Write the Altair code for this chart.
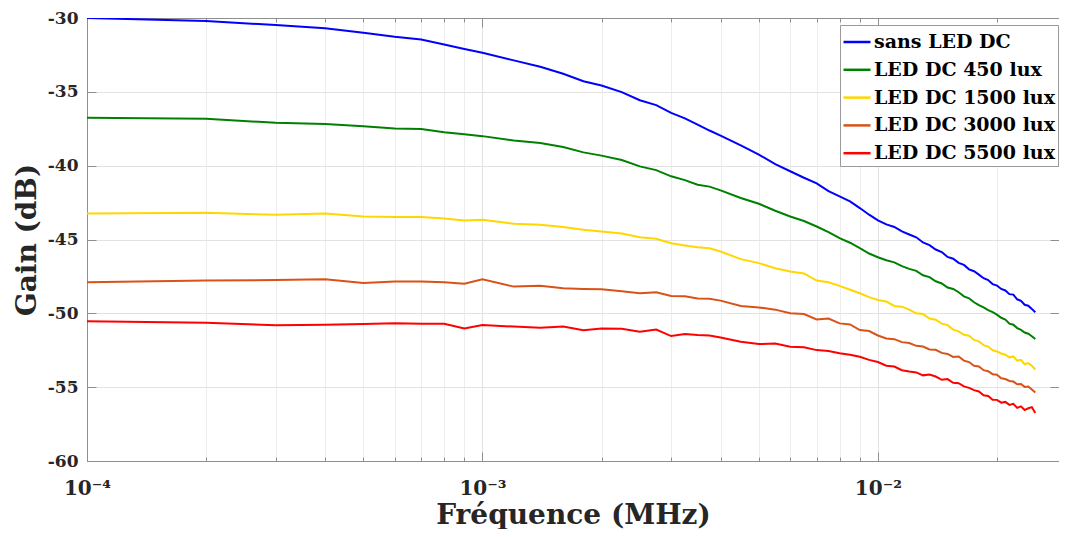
import altair as alt
import pandas as pd

FONT = "DejaVu Serif"

FREQ_MHZ = [
    0.0001, 0.0002, 0.0003, 0.0004, 0.0005, 0.0006, 0.0007, 0.0008, 0.0009, 0.0010,
    0.0012, 0.0014, 0.0016, 0.0018, 0.0020, 0.00225, 0.0025, 0.00275, 0.0030, 0.00325,
    0.0035, 0.00375, 0.0040, 0.0045, 0.0050, 0.0055, 0.0060, 0.0065, 0.0070, 0.0075,
    0.0080, 0.0085, 0.0090, 0.0095,
    0.0100, 0.0105, 0.0110, 0.0115, 0.0120, 0.0125, 0.0130, 0.0135, 0.0140, 0.0145,
    0.0150, 0.0155, 0.0160, 0.0165, 0.0170, 0.0175, 0.0180, 0.0185, 0.0190, 0.0195,
    0.0200, 0.0205, 0.0210, 0.0215, 0.0220, 0.0225, 0.0230, 0.0235, 0.0240, 0.0245,
    0.0250,
]

SANS_LED = [
    -30.00, -30.20, -30.48, -30.70, -31.00, -31.27, -31.45, -31.80, -32.10, -32.35,
    -32.87, -33.30, -33.78, -34.28, -34.57, -35.02, -35.57, -35.90, -36.43, -36.80,
    -37.22, -37.62, -37.96, -38.62, -39.25, -39.90, -40.38, -40.82, -41.20, -41.72,
    -42.08, -42.42, -42.87, -43.32,
    -43.70, -43.98, -44.15, -44.45, -44.66, -44.85, -45.20, -45.38, -45.68, -45.85,
    -46.18, -46.30, -46.58, -46.72, -47.02, -47.15, -47.38, -47.62, -47.75, -48.02,
    -48.12, -48.35, -48.45, -48.70, -48.73, -49.05, -49.15, -49.42, -49.48, -49.70,
    -49.93,
]

LUX_450 = [
    -36.76, -36.83, -37.10, -37.17, -37.33, -37.49, -37.51, -37.74, -37.87, -38.00,
    -38.30, -38.46, -38.73, -39.10, -39.32, -39.62, -40.05, -40.30, -40.72, -40.98,
    -41.29, -41.42, -41.67, -42.19, -42.58, -43.05, -43.44, -43.75, -44.12, -44.50,
    -44.91, -45.22, -45.59, -45.95,
    -46.20, -46.40, -46.55, -46.80, -46.99, -47.12, -47.42, -47.55, -47.83, -47.98,
    -48.25, -48.35, -48.57, -48.85, -48.98, -49.25, -49.45, -49.60, -49.78, -49.92,
    -50.09, -50.30, -50.42, -50.70, -50.77, -51.00, -51.12, -51.30, -51.38, -51.55,
    -51.74,
]

LUX_1500 = [
    -43.24, -43.19, -43.33, -43.24, -43.44, -43.48, -43.48, -43.57, -43.71, -43.67,
    -43.94, -44.00, -44.16, -44.34, -44.46, -44.60, -44.84, -44.95, -45.25, -45.40,
    -45.52, -45.60, -45.81, -46.33, -46.60, -46.95, -47.17, -47.30, -47.78, -47.90,
    -48.14, -48.40, -48.64, -48.90,
    -49.10, -49.20, -49.50, -49.55, -49.75, -50.00, -50.05, -50.35, -50.43, -50.70,
    -50.80, -51.10, -51.22, -51.45, -51.52, -51.80, -51.90, -52.15, -52.25, -52.50,
    -52.58, -52.72, -52.80, -52.98, -52.92, -53.20, -53.15, -53.45, -53.37, -53.55,
    -53.80,
]

LUX_3000 = [
    -47.90, -47.78, -47.74, -47.69, -47.94, -47.85, -47.85, -47.90, -48.00, -47.70,
    -48.19, -48.14, -48.30, -48.35, -48.37, -48.50, -48.64, -48.58, -48.82, -48.85,
    -49.00, -49.02, -49.14, -49.50, -49.60, -49.75, -50.00, -50.05, -50.41, -50.35,
    -50.68, -50.75, -51.13, -51.20,
    -51.50, -51.70, -51.75, -51.95, -52.01, -52.20, -52.25, -52.45, -52.47, -52.68,
    -52.75, -52.95, -52.92, -53.20, -53.30, -53.55, -53.60, -53.85, -53.92, -54.12,
    -54.16, -54.40, -54.45, -54.58, -54.62, -54.80, -54.78, -54.98, -54.95, -55.15,
    -55.36,
]

LUX_5500 = [
    -50.54, -50.63, -50.81, -50.77, -50.72, -50.68, -50.70, -50.70, -51.02, -50.79,
    -50.90, -50.97, -50.90, -51.15, -51.02, -51.05, -51.24, -51.10, -51.54, -51.40,
    -51.47, -51.50, -51.63, -51.92, -52.08, -52.05, -52.26, -52.30, -52.49, -52.55,
    -52.71, -52.80, -52.94, -53.15,
    -53.30, -53.55, -53.60, -53.85, -53.94, -54.00, -54.20, -54.15, -54.28, -54.50,
    -54.45, -54.70, -54.73, -54.95, -55.05, -55.20, -55.29, -55.55, -55.60, -55.85,
    -55.86, -56.05, -56.00, -56.20, -56.13, -56.40, -56.30, -56.55, -56.43, -56.35,
    -56.75,
]

SERIES_NAMES = ["sans LED DC", "LED DC 450 lux", "LED DC 1500 lux", "LED DC 3000 lux", "LED DC 5500 lux"]
SERIES_COLORS = ["#0000FF", "#008000", "#FFD700", "#D95319", "#FF0000"]
SERIES_VALUES = [SANS_LED, LUX_450, LUX_1500, LUX_3000, LUX_5500]

X_DOMAIN = [0.0001, 0.0287]
X_MAJOR = [0.0001, 0.001, 0.01]
X_MAJOR_LABELS = ["10⁻⁴", "10⁻³", "10⁻²"]
X_MINOR = [0.0002, 0.0003, 0.0004, 0.0005, 0.0006, 0.0007, 0.0008, 0.0009,
           0.002, 0.003, 0.004, 0.005, 0.006, 0.007, 0.008, 0.009,
           0.02]
Y_TICKS = [-60, -55, -50, -45, -40, -35, -30]

rows = []
for name, vals in zip(SERIES_NAMES, SERIES_VALUES):
    for f, g in zip(FREQ_MHZ, vals):
        rows.append({"f": f, "gain": g, "series": name})
df = pd.DataFrame(rows)

W, H = 972, 443
AX = "#8f8f8f"
GRID_MAJOR = "#e2e2e2"
GRID_MINOR = "#ededed"
TXT = "#262626"

xscale = alt.Scale(type="log", domain=X_DOMAIN, nice=False)
yscale = alt.Scale(domain=[-60, -30], nice=False, zero=False)

label_expr = ""
for v, lab in zip(X_MAJOR[:-1], X_MAJOR_LABELS[:-1]):
    label_expr += f"datum.value < {v * 5} ? '{lab}' : "
label_expr += f"'{X_MAJOR_LABELS[-1]}'"

major_test = "indexof([" + ",".join(str(v) for v in X_MAJOR) + "], datum.value) >= 0"
all_x = X_MAJOR + X_MINOR

x_main = alt.Axis(orient="bottom", values=X_MAJOR, labelExpr=label_expr, grid=True,
                  gridColor=GRID_MAJOR, gridWidth=1, ticks=False, tickSize=0,
                  domain=True, domainColor=AX, domainWidth=1,
                  labelFont=FONT, labelFontSize=20, labelFontWeight="bold", labelColor=TXT,
                  labelPadding=17, labelFlush=False, labelOverlap=False,
                  title="Fréquence (MHz)", titleFont=FONT, titleFontSize=28,
                  titleFontWeight="bold", titleColor=TXT, titleBaseline="alphabetic",
                  titleY=62)
x_minor_grid = alt.Axis(orient="bottom", values=X_MINOR, grid=True, gridColor=GRID_MINOR,
                        gridWidth=1, labels=False, ticks=False, domain=False, title="")
x_top_ticks = alt.Axis(orient="bottom", offset=-H, values=all_x, grid=False, labels=False,
                       ticks=True, tickColor=AX,
                       tickSize={"condition": {"test": major_test, "value": 9}, "value": 4},
                       domain=True, domainColor=AX, title="")
x_bottom_ticks = alt.Axis(orient="top", offset=-H, values=all_x, grid=False, labels=False,
                          ticks=True, tickColor=AX,
                          tickSize={"condition": {"test": major_test, "value": 9}, "value": 4},
                          domain=False, title="")

y_main = alt.Axis(orient="left", values=Y_TICKS, labelExpr="'' + datum.value", grid=True,
                  gridColor=GRID_MAJOR, ticks=False, tickSize=0, domain=True, domainColor=AX,
                  labelFont=FONT, labelFontSize=17, labelFontWeight="bold", labelColor=TXT,
                  labelPadding=9, title="Gain (dB)", titleFont=FONT, titleFontSize=28,
                  titleFontWeight="bold", titleColor=TXT, titlePadding=6)
y_left_ticks = alt.Axis(orient="right", offset=-W, values=Y_TICKS, grid=False, labels=False,
                        ticks=True, tickColor=AX, tickSize=9, domain=False, title="")
y_right_ticks = alt.Axis(orient="left", offset=-W, values=Y_TICKS, grid=False, labels=False,
                         ticks=True, tickColor=AX, tickSize=9, domain=True, domainColor=AX, title="")

lines = alt.Chart(df).mark_line(strokeWidth=2, clip=True).encode(
    x=alt.X("f:Q", scale=xscale, axis=x_main),
    y=alt.Y("gain:Q", scale=yscale, axis=y_main),
    color=alt.Color("series:N", sort=SERIES_NAMES,
                    scale=alt.Scale(domain=SERIES_NAMES, range=SERIES_COLORS),
                    legend=alt.Legend(title=None, orient="none", legendX=753, legendY=7,
                                      direction="vertical", fillColor="white",
                                      strokeColor="#9a9a9a", padding=2,
                                      symbolType="stroke", symbolSize=729,
                                      symbolStrokeWidth=2.5, labelFont=FONT,
                                      labelFontSize=19, labelFontWeight="bold",
                                      labelColor="#000000", labelOffset=2, rowPadding=2.8,
                                      labelLimit=400)),
    detail="series:N",
)

helper1 = alt.Chart(df).mark_line(opacity=0).encode(
    x=alt.X("f:Q", scale=xscale, axis=x_minor_grid),
    y=alt.Y("gain:Q", scale=yscale, axis=y_left_ticks),
    detail="series:N",
)
helper2 = alt.Chart(df).mark_line(opacity=0).encode(
    x=alt.X("f:Q", scale=xscale, axis=x_top_ticks),
    y=alt.Y("gain:Q", scale=yscale, axis=y_right_ticks),
    detail="series:N",
)
helper3 = alt.Chart(df).mark_line(opacity=0).encode(
    x=alt.X("f:Q", scale=xscale, axis=x_bottom_ticks),
    y=alt.Y("gain:Q", scale=yscale, axis=None),
    detail="series:N",
)

chart = alt.layer(helper1, helper2, helper3, lines).resolve_axis(
    x="independent", y="independent"
).properties(
    width=W, height=H,
    padding={"left": 79, "top": 10, "right": 0, "bottom": 68},
    autosize=alt.AutoSizeParams(type="none"),
).configure_view(stroke=None)

chart.save("out.html", embed_options={"renderer": "svg", "actions": False})
